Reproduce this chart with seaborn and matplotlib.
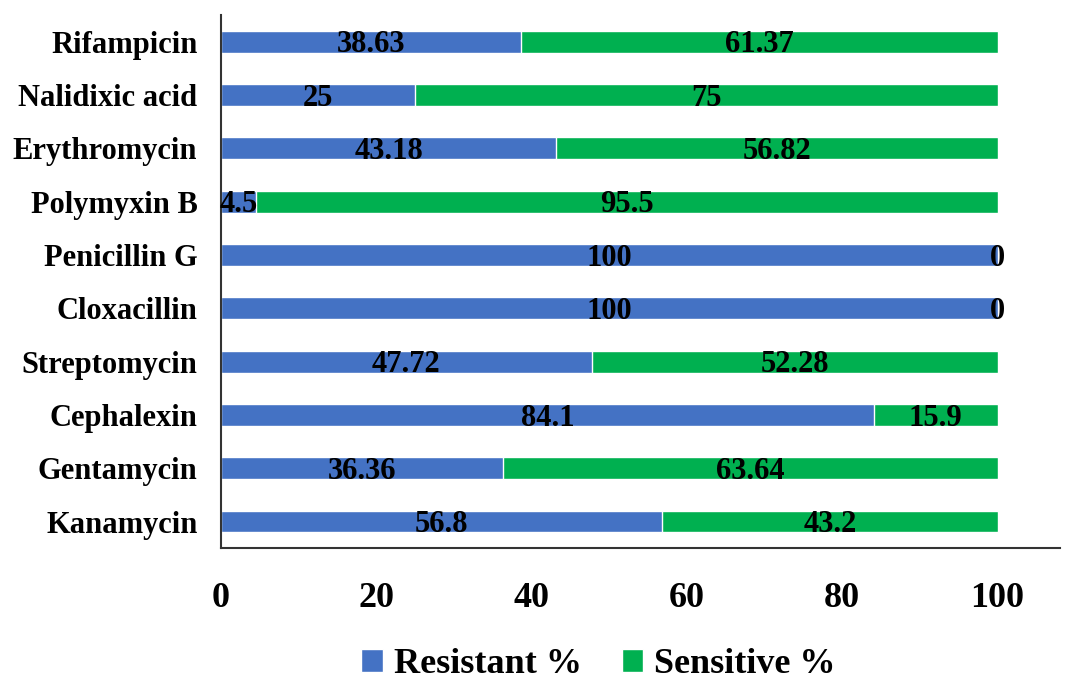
import numpy as np
import pandas as pd
import seaborn as sns
import matplotlib.pyplot as plt

antibiotics = ['Rifampicin', 'Nalidixic acid', 'Erythromycin', 'Polymyxin B', 'Penicillin G',
               'Cloxacillin', 'Streptomycin', 'Cephalexin', 'Gentamycin', 'Kanamycin']
resistant = [38.63, 25, 43.18, 4.5, 100, 100, 47.72, 84.1, 36.36, 56.8]
sensitive = [61.37, 75, 56.82, 95.5, 0, 0, 52.28, 15.9, 63.64, 43.2]

df = pd.DataFrame({'drug': antibiotics, 'res': resistant, 'sen': sensitive})
df['total'] = df['res'] + df['sen']

sns.set_style('white')
plt.rcParams['font.family'] = ['Liberation Serif', 'DejaVu Serif']
plt.rcParams['text.color'] = 'black'
plt.rcParams['xtick.color'] = 'black'
plt.rcParams['ytick.color'] = 'black'

fig = plt.figure(figsize=(10.65, 6.81), dpi=100)
ax = fig.add_axes([0.2075, 0.195, 0.7875, 0.783])

sns.barplot(data=df, y='drug', x='total', color='#00B050', width=0.41,
            orient='h', ax=ax, saturation=1, label='Sensitive %')
sns.barplot(data=df, y='drug', x='res', color='#4472C4', width=0.41,
            orient='h', ax=ax, saturation=1, label='Resistant %')

# value labels centred in each segment
for i, (r, s) in enumerate(zip(resistant, sensitive)):
    ax.text(r / 2, i + 0.06, f'{r:g}', ha='center', va='center',
            fontsize=22, fontweight='bold')
    ax.text(r + s / 2, i + 0.06, f'{s:g}', ha='center', va='center',
            fontsize=22, fontweight='bold')

ax.set_xlim(0, 108)
ax.set_xticks([0, 20, 40, 60, 80, 100])
ax.set_ylim(9.5, -0.5)
ax.set_xlabel('')
ax.set_ylabel('')
ax.tick_params(axis='x', labelsize=26, length=0, pad=24)
ax.tick_params(axis='y', labelsize=22, length=0, pad=17)
for lab in ax.get_xticklabels() + ax.get_yticklabels():
    lab.set_fontweight('bold')

for side in ['top', 'right']:
    ax.spines[side].set_visible(False)
for side in ['left', 'bottom']:
    ax.spines[side].set_color('#333333')
    ax.spines[side].set_linewidth(1.5)

handles, labels = ax.get_legend_handles_labels()
ax.legend(handles[::-1], labels[::-1], loc='center', bbox_to_anchor=(0.562, 0.024),
          bbox_transform=fig.transFigure, ncol=2, frameon=False,
          prop={'size': 26, 'weight': 'bold'}, handlelength=0.6, handleheight=0.6,
          columnspacing=1.1, handletextpad=0.3, borderpad=0.1)

fig.savefig('out.png', dpi=100)
